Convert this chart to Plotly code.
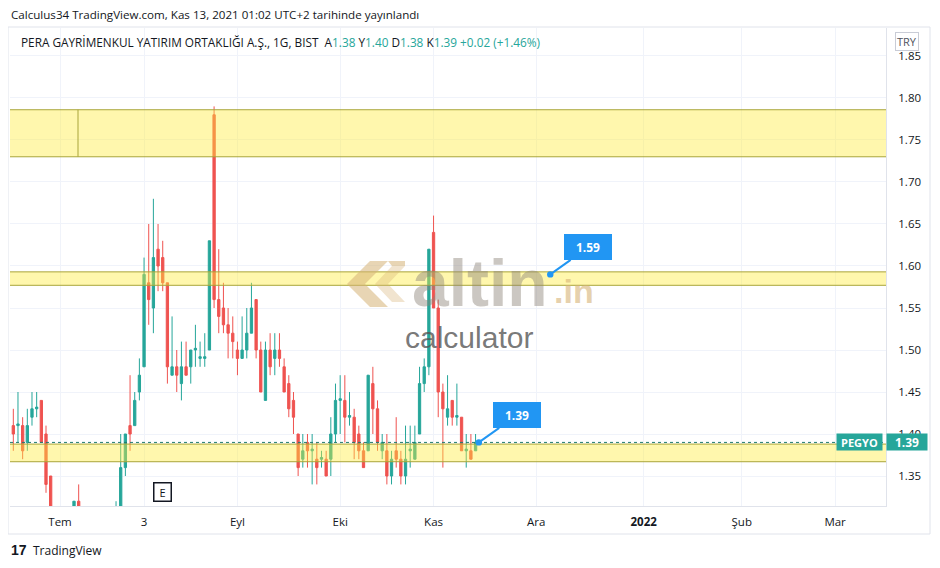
import plotly.graph_objects as go

# ---------------- data ----------------
# bar index 0 = 1 Temmuz 2021 (trading-day index, weekends/holidays skipped)
first_bar = -10
opens = [1.41, 1.410, 1.41, 1.39, 1.42, 1.430, 1.44, 1.40, 1.35, 1.29,
         1.27, 1.28, 1.27, 1.28, 1.32, 1.30, 1.28, 1.27, 1.26, 1.27,
         1.28, 1.29, 1.30, 1.31, 1.36, 1.41, 1.41, 1.45, 1.48, 1.58,
         1.55, 1.62, 1.61, 1.58, 1.47, 1.48, 1.46, 1.48, 1.48, 1.500,
         1.490, 1.490, 1.50, 1.78, 1.56, 1.55, 1.53, 1.52, 1.50, 1.49,
         1.50, 1.52, 1.56, 1.50, 1.44, 1.50, 1.49, 1.50, 1.48, 1.46,
         1.44, 1.40, 1.37, 1.39, 1.380, 1.37, 1.370, 1.37, 1.37, 1.40,
         1.440, 1.44, 1.420, 1.42, 1.40, 1.38, 1.38, 1.46, 1.43, 1.38,
         1.38, 1.35, 1.38, 1.37, 1.35, 1.380, 1.37, 1.40, 1.46, 1.48,
         1.64, 1.55, 1.45, 1.42, 1.44, 1.420, 1.42, 1.380, 1.38, 1.38]
highs = [1.43, 1.45, 1.42, 1.43, 1.45, 1.45, 1.44, 1.41, 1.35, 1.30,
         1.29, 1.30, 1.29, 1.32, 1.34, 1.31, 1.30, 1.29, 1.28, 1.29,
         1.30, 1.31, 1.32, 1.40, 1.40, 1.47, 1.45, 1.49, 1.61, 1.65,
         1.68, 1.65, 1.63, 1.58, 1.54, 1.50, 1.51, 1.51, 1.50, 1.53,
         1.51, 1.52, 1.63, 1.79, 1.62, 1.58, 1.55, 1.54, 1.51, 1.54,
         1.55, 1.58, 1.56, 1.51, 1.51, 1.52, 1.52, 1.52, 1.49, 1.47,
         1.45, 1.40, 1.40, 1.40, 1.40, 1.39, 1.38, 1.38, 1.42, 1.46,
         1.47, 1.47, 1.45, 1.43, 1.41, 1.39, 1.47, 1.48, 1.44, 1.40,
         1.40, 1.38, 1.42, 1.38, 1.41, 1.41, 1.41, 1.48, 1.49, 1.62,
         1.66, 1.56, 1.46, 1.47, 1.44, 1.46, 1.42, 1.40, 1.40, 1.40]
lows = [1.38, 1.39, 1.37, 1.38, 1.41, 1.42, 1.39, 1.33, 1.28, 1.26,
        1.25, 1.26, 1.26, 1.28, 1.29, 1.27, 1.26, 1.25, 1.25, 1.26,
        1.27, 1.28, 1.29, 1.30, 1.35, 1.38, 1.41, 1.44, 1.48, 1.53,
        1.52, 1.57, 1.57, 1.46, 1.47, 1.45, 1.44, 1.47, 1.46, 1.48,
        1.48, 1.48, 1.50, 1.55, 1.52, 1.52, 1.49, 1.49, 1.47, 1.49,
        1.49, 1.52, 1.49, 1.45, 1.44, 1.47, 1.47, 1.48, 1.45, 1.42,
        1.40, 1.35, 1.36, 1.36, 1.34, 1.34, 1.36, 1.35, 1.35, 1.39,
        1.40, 1.39, 1.41, 1.37, 1.37, 1.36, 1.38, 1.40, 1.38, 1.37,
        1.34, 1.34, 1.36, 1.34, 1.34, 1.36, 1.37, 1.40, 1.45, 1.47,
        1.55, 1.42, 1.36, 1.41, 1.41, 1.41, 1.38, 1.36, 1.37, 1.38]
closes = [1.40, 1.412, 1.38, 1.41, 1.43, 1.432, 1.39, 1.34, 1.29, 1.27,
          1.28, 1.27, 1.28, 1.32, 1.30, 1.28, 1.27, 1.26, 1.27, 1.28,
          1.29, 1.30, 1.31, 1.36, 1.40, 1.40, 1.44, 1.47, 1.59, 1.56,
          1.61, 1.60, 1.58, 1.48, 1.48, 1.47, 1.48, 1.47, 1.50, 1.502,
          1.492, 1.492, 1.63, 1.56, 1.54, 1.53, 1.52, 1.51, 1.49, 1.50,
          1.52, 1.55, 1.50, 1.45, 1.50, 1.48, 1.50, 1.49, 1.45, 1.43,
          1.42, 1.36, 1.38, 1.38, 1.382, 1.36, 1.372, 1.35, 1.40, 1.44,
          1.442, 1.42, 1.422, 1.39, 1.38, 1.36, 1.47, 1.43, 1.39, 1.39,
          1.35, 1.37, 1.37, 1.35, 1.37, 1.382, 1.39, 1.46, 1.48, 1.62,
          1.55, 1.45, 1.43, 1.43, 1.42, 1.422, 1.38, 1.382, 1.37, 1.39]
bar_index = list(range(first_bar, first_bar + len(opens)))

tick_index = [0, 18, 38, 60, 80, 102, 125, 146, 166]
tick_labels = ["Tem", "3", "Eyl", "Eki", "Kas", "Ara", "<b>2022</b>", "Şub", "Mar"]

zone_low = [1.730, 1.577, 1.367]
zone_high = [1.786, 1.593, 1.388]

last_close = 1.39
callout_values = [1.59, 1.39]
callout_bars = [105, 89.7]

title_text = "PERA GAYRİMENKUL YATIRIM ORTAKLIĞI A.Ş., 1G, BIST"
ohlc_text = ["A", "1.38", "Y", "1.40", "D", "1.38", "K", "1.39"]
change_text = "+0.02 (+1.46%)"

# ---------------- styling helpers ----------------
UP = "#26a69a"
DOWN = "#ef5350"
ZONE_LINE = "#a9a53a"
PAGE_OFF = 8          # default body margin of the html page
FIG_W, FIG_H = 940 - PAGE_OFF, 568 - PAGE_OFF
PLOT_L, PLOT_R, PLOT_T, PLOT_B = 10, 886, 28, 506   # page pixels


def px(x):
    return (x - PLOT_L) / (PLOT_R - PLOT_L)


def py(y):
    return (PLOT_B - y) / (PLOT_B - PLOT_T)


fig = go.Figure()
fig.add_trace(go.Candlestick(
    x=bar_index, open=opens, high=highs, low=lows, close=closes,
    increasing=dict(line=dict(color=UP, width=1), fillcolor=UP),
    decreasing=dict(line=dict(color=DOWN, width=1), fillcolor=DOWN),
    whiskerwidth=0, hoverinfo="skip",
))

shapes = []
for lo, hi in zip(zone_low, zone_high):
    shapes.append(dict(type="rect", xref="paper", x0=0, x1=1, yref="y", y0=lo, y1=hi,
                       fillcolor="rgba(255,235,59,0.42)", line=dict(width=0), layer="above"))
    for edge in (lo, hi):
        shapes.append(dict(type="line", xref="paper", x0=0, x1=1, yref="y", y0=edge, y1=edge,
                           line=dict(color=ZONE_LINE, width=1), layer="above"))
# divider inside the upper zone
shapes.append(dict(type="line", xref="paper", x0=px(78), x1=px(78), yref="y",
                   y0=zone_low[0], y1=zone_high[0], line=dict(color=ZONE_LINE, width=1), layer="above"))
# last price dotted line
shapes.append(dict(type="line", xref="paper", x0=0, x1=1, yref="y", y0=last_close, y1=last_close,
                   line=dict(color="#1f7a6e", width=1, dash="dot"), layer="above"))
# outer frame
shapes.append(dict(type="rect", xref="paper", yref="paper", x0=px(8), x1=px(930), y0=py(534), y1=py(27),
                   line=dict(color="#e0e3eb", width=1), fillcolor="rgba(0,0,0,0)", layer="above"))


def poly(pts):
    return "M " + " L ".join(f"{px(a):.5f},{py(b):.5f}" for a, b in pts) + " Z"


logo_col = "rgba(214,178,118,0.55)"
shapes.append(dict(type="path", xref="paper", yref="paper",
                   path=poly([(370, 261), (388, 261), (365, 284), (388, 307), (370, 307), (347, 284)]),
                   fillcolor=logo_col, line=dict(width=0), layer="above"))
shapes.append(dict(type="path", xref="paper", yref="paper",
                   path=poly([(392, 266), (405, 266), (388, 284), (405, 302), (392, 302), (375, 284)]),
                   fillcolor="rgba(214,178,118,0.35)", line=dict(width=0), layer="above"))
shapes.append(dict(type="path", xref="paper", yref="paper",
                   path=poly([(388, 261), (405, 261), (405, 266), (392, 266)]),
                   fillcolor=logo_col, line=dict(width=0), layer="above"))

ann = []
# header
ann.append(dict(xref="paper", yref="paper", x=px(9), y=py(14), xanchor="left", yanchor="middle",
                text="Calculus34 TradingView.com, Kas 13, 2021 01:02 UTC+2 tarihinde yayınlandı",
                showarrow=False, font=dict(size=11.6, color="#131722")))
parts = [title_text + " "]
for k in range(0, len(ohlc_text), 2):
    parts.append(f" {ohlc_text[k]}<span style='color:{UP}'>{ohlc_text[k+1]}</span>")
parts.append(f" <span style='color:{UP}'>{change_text}</span>")
ann.append(dict(xref="paper", yref="paper", x=px(19), y=py(42), xanchor="left", yanchor="middle",
                text="".join(parts), showarrow=False, font=dict(size=11.8, color="#131722")))
# currency box
ann.append(dict(xref="paper", yref="paper", x=px(907), y=py(41), xanchor="center", yanchor="middle",
                text="TRY", showarrow=False, font=dict(size=11, color="#50535e"),
                bordercolor="#c9ccd6", borderwidth=1, borderpad=1, bgcolor="white"))
# price labels
ann.append(dict(xref="paper", yref="y", x=1, y=last_close, xanchor="right", yanchor="middle", xshift=-3,
                text="<b>PEGYO</b>", showarrow=False, font=dict(size=11, color="white"),
                bgcolor=UP, width=43, height=14))
ann.append(dict(xref="paper", yref="y", x=1, y=last_close, xanchor="left", yanchor="middle", xshift=0,
                text="<b>%.2f</b>" % last_close, showarrow=False, font=dict(size=12, color="white"),
                bgcolor=UP, width=38, height=14))
# callouts
for b, v in zip(callout_bars, callout_values):
    ann.append(dict(xref="x", yref="y", x=b, y=v, ax=38, ay=-27, text="<b>%.2f</b>" % v,
                    showarrow=True, arrowhead=6, arrowsize=0.8, arrowwidth=2, arrowcolor="#2196f3",
                    font=dict(size=12, color="white"), bgcolor="#2196f3", bordercolor="#2196f3",
                    width=44, height=22))
# earnings marker
ann.append(dict(xref="paper", yref="paper", x=px(162), y=py(492), xanchor="center", yanchor="middle",
                text="E", showarrow=False,
                font=dict(size=11, color="#131722"), bordercolor="#131722", borderwidth=1.5,
                borderpad=2, bgcolor="white", width=12, height=13))
# watermark
ann.append(dict(xref="paper", yref="paper", x=px(480), y=py(283), xanchor="center", yanchor="middle",
                text="<b>altin</b>", showarrow=False,
                font=dict(family="Liberation Sans", size=66, color="rgba(140,130,120,0.45)")))
ann.append(dict(xref="paper", yref="paper", x=px(574), y=py(291), xanchor="center", yanchor="middle",
                text="<b>.in</b>", showarrow=False,
                font=dict(family="Liberation Sans", size=34, color="rgba(214,178,118,0.6)")))
ann.append(dict(xref="paper", yref="paper", x=px(469), y=py(337), xanchor="center", yanchor="middle",
                text="calculator", showarrow=False,
                font=dict(family="Liberation Sans", size=30, color="rgba(85,85,85,0.8)")))
# footer
ann.append(dict(xref="paper", yref="paper", x=px(9), y=py(550), xanchor="left", yanchor="middle",
                text="<b>17</b>", showarrow=False, font=dict(family="Liberation Sans", size=14, color="#131722")))
ann.append(dict(xref="paper", yref="paper", x=px(31), y=py(550), xanchor="left", yanchor="middle",
                text="TradingView", showarrow=False, font=dict(size=12, color="#131722")))

fig.update_layout(
    width=FIG_W, height=FIG_H,
    margin=dict(l=PLOT_L - PAGE_OFF, r=FIG_W - (PLOT_R - PAGE_OFF),
                t=PLOT_T - PAGE_OFF, b=FIG_H - (PLOT_B - PAGE_OFF)),
    paper_bgcolor="white", plot_bgcolor="white",
    showlegend=False,
    font=dict(family="Open Sans", size=12, color="#131722"),
    shapes=shapes, annotations=ann,
    xaxis=dict(range=[-10.71, 176.9], tickmode="array", tickvals=tick_index, ticktext=tick_labels,
               showgrid=True, gridcolor="#f0f3fa", zeroline=False, showline=True, linecolor="#e0e3eb",
               rangeslider=dict(visible=False), ticks="", ticklabelstandoff=5,
               tickfont=dict(size=11.5, color="#131722")),
    yaxis=dict(side="right", range=[1.3143, 1.8833], tick0=1.35, dtick=0.05, tickformat=".2f",
               showgrid=True, gridcolor="#f0f3fa", zeroline=False, showline=True, linecolor="#e0e3eb",
               ticks="", ticklabelstandoff=9, tickfont=dict(size=11.5, color="#131722")),
)

fig.write_html("out.html")
